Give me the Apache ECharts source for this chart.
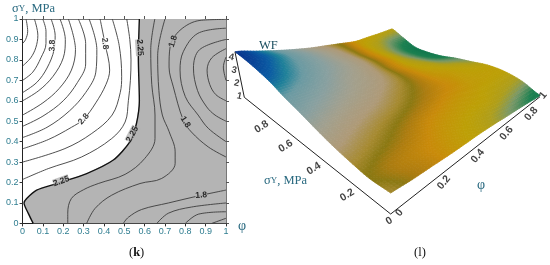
<!DOCTYPE html>
<html><head><meta charset="utf-8">
<style>html,body{margin:0;padding:0;background:#fff}#c{width:550px;height:265px}</style>
<script src="https://cdn.jsdelivr.net/npm/echarts@6/dist/echarts.min.js"></script>
</head><body><div id="c"></div>
<script>
// ---- panel (k): contour lines, [phi, sigmaY]
const c225=[[.052,0],[.028,.049],[.007,.10],[.02,.122],[.069,.163],[.167,.195],[.315,.244],[.446,.31],[.528,.40],[.56,.49],[.574,.60],[.569,.81],[.574,1]];
const w1=[[0,.215],[.126,.268],[.29,.325],[.438,.415],[.504,.496],[.52,.6],[.53,.7],[.533,.8],[.527,.9],[.512,1]];
const w2=[[0,.30],[.208,.366],[.34,.44],[.44,.53],[.48,.64],[.487,.72],[.475,.87],[.441,1]];
const w3=[[0,.365],[.126,.41],[.24,.47],[.3,.51],[.36,.59],[.41,.68],[.428,.75],[.405,.88],[.381,1]];
const w4=[[0,.42],[.12,.47],[.23,.55],[.31,.64],[.36,.74],[.365,.85],[.327,1]];
const w5=[[0,.475],[.1,.525],[.2,.6],[.27,.69],[.31,.78],[.31,.88],[.274,1]];
const w6=[[0,.53],[.1,.59],[.18,.66],[.24,.75],[.26,.85],[.225,1]];
const w7=[[0,.6],[.08,.65],[.15,.72],[.2,.81],[.21,.9],[.184,1]];
const w8=[[0,.64],[.07,.69],[.12,.76],[.155,.85],[.16,.92],[.14,1]];
const w9=[[0,.7],[.05,.74],[.09,.81],[.115,.88],[.115,.94],[.099,1]];
const w10=[[0,.77],[.04,.81],[.065,.86],[.075,.92],[.058,1]];
const w11=[[0,.88],[.015,.9],[.025,.94],[.017,1]];
const g1=[[.222,0],[.222,.05],[.24,.122],[.30,.165],[.372,.195],[.504,.24],[.6,.317],[.651,.415],[.651,.53],[.635,.68],[.63,.85],[.65,1]];
const g2=[[.315,0],[.356,.073],[.438,.138],[.577,.195],[.684,.22],[.75,.293],[.75,.35],[.72,.45],[.687,.53],[.67,.65],[.664,.82],[.70,1]];
const g3=[[1,.998],[.872,.993],[.774,.945],[.725,.863],[.72,.765],[.741,.668],[.79,.505],[.83,.447],[.913,.374],[1,.325]];
const g4=[[1,.955],[.862,.93],[.79,.84],[.774,.75],[.80,.62],[.863,.53],[.913,.465],[1,.40]];
const g5=[[1,.9],[.87,.85],[.84,.76],[.86,.65],[.905,.57],[.946,.53],[1,.50]];
const g6=[[1,.855],[.93,.81],[.907,.75],[.92,.68],[.95,.63],[1,.60]];
const g7=[[1,.814],[.987,.765],[1,.70]];
const l1=[[.495,0],[.52,.03],[.585,.068],[.717,.10],[.88,.138],[1,.163]];
const l2=[[.66,0],[.717,.05],[.83,.08],[1,.10]];
const l3=[[.80,0],[.864,.045],[1,.057]];
const l4=[[.93,0],[1,.025]];
const thinContours=[w1,w2,w3,w4,w5,w6,w7,w8,w9,w10,w11,g1,g2,g3,g4,g5,g6,g7,l1,l2,l3,l4];
// contour labels: phi, sigmaY, text
const labelPos=[[.146,.87,'3.8'],[.405,.88,'2.8'],[.30,.51,'2.8'],[.577,.86,'2.25'],[.54,.436,'2.25'],[.19,.206,'2.25'],[.74,.89,'1.8'],[.80,.496,'1.8'],[.878,.138,'1.8']];
const labelAngle=[88,-84,48,-86,62,20,72,-58,4];
const labelBack=['#fff','#fff','#fff','#b4b4b4','#b4b4b4','#b4b4b4','#b4b4b4','#b4b4b4','#b4b4b4'];
// ---- panel (l): WF surface, rows by sigmaY, columns phi = 0, 0.1 ... 1
const wf_s10=[4.50,4.00,3.52,3.10,2.74,2.46,2.18,1.92,1.86,1.80,1.78];
const wf_s09=[4.42,4.07,3.64,3.22,2.85,2.52,2.16,1.87,1.68,1.46,1.38];
const wf_s08=[4.25,3.93,3.58,3.23,2.88,2.55,2.14,1.85,1.55,1.25,1.00];
const wf_s07=[4.00,3.75,3.43,3.13,2.86,2.56,2.16,1.87,1.55,1.24,1.00];
const wf_s06=[3.60,3.43,3.20,2.94,2.75,2.50,2.12,1.87,1.65,1.34,1.13];
const wf_s05=[3.29,3.12,2.93,2.77,2.63,2.43,2.14,1.91,1.78,1.55,1.40];
const wf_s04=[2.93,2.78,2.66,2.57,2.44,2.30,2.12,1.95,1.87,1.77,1.60];
const wf_s03=[2.62,2.52,2.43,2.35,2.26,2.15,2.05,1.97,1.88,1.85,1.82];
const wf_s02=[2.40,2.33,2.24,2.13,2.03,1.97,1.92,1.89,1.86,1.84,1.83];
const wf_s01=[2.25,2.14,2.07,2.00,1.92,1.87,1.83,1.80,1.72,1.65,1.60];
const wf_s00=[2.35,2.18,2.07,1.95,1.87,1.80,1.68,1.53,1.40,1.25,1.10];
const wfRows=[wf_s00,wf_s01,wf_s02,wf_s03,wf_s04,wf_s05,wf_s06,wf_s07,wf_s08,wf_s09,wf_s10];
const stopVals=[1.0,1.25,1.5,1.7,1.85,2.0,2.14,2.25,2.36,2.55,2.85,3.2,3.6,3.85,4.1,4.5];
const stopCols=['#12784e','#1c8050','#7a9868','#ae9e1c','#bd9f06','#c98a0a','#ac7c10','#8a7812','#a68a30','#ae9a78','#a2a08e','#88a0a0','#6a9aa2','#1f8199','#0a5aa2','#08348e'];
const sigmaTicks=[0,.2,.4,.6,.8];
const phiTicks=[0,.2,.4,.6,.8,1];
const zTicks=[1,2,3,4];
const floorCorners={o:[390.7,214],p:[540,96.7],b:[392,38],s:[244.3,97.3]};

function solveHomography(o,p,b,s){
  const dx1=p[0]-b[0],dx2=s[0]-b[0],sx=o[0]-p[0]+b[0]-s[0];
  const dy1=p[1]-b[1],dy2=s[1]-b[1],sy=o[1]-p[1]+b[1]-s[1];
  const d=dx1*dy2-dx2*dy1;
  const g=(sx*dy2-dx2*sy)/d,h=(dx1*sy-sx*dy1)/d;
  return {a:p[0]-o[0]+g*p[0],b:s[0]-o[0]+h*s[0],c:o[0],d:p[1]-o[1]+g*p[1],e:s[1]-o[1]+h*s[1],f:o[1],g,h};
}
const H=solveHomography(floorCorners.o,floorCorners.p,floorCorners.b,floorCorners.s);
function floor(phi,sig){const w=H.g*phi+H.h*sig+1;return [(H.a*phi+H.b*sig+H.c)/w,(H.d*phi+H.e*sig+H.f)/w];}
function project(phi,sig,z){
  const f=floor(phi,sig);
  const k=13+(f[1]-97)*2.5/117;
  const sh=(f[0]-390.7)/146*2.66;
  return [f[0]+(z-1)*sh,f[1]-(z-1)*k];
}
function hex(c){return [parseInt(c.slice(1,3),16),parseInt(c.slice(3,5),16),parseInt(c.slice(5,7),16)];}
const stopRgb=stopCols.map(hex);
function colorOf(v){
  if(v<=stopVals[0])return stopCols[0];
  for(let i=1;i<stopVals.length;i++){
    if(v<=stopVals[i]){
      const t=(v-stopVals[i-1])/(stopVals[i]-stopVals[i-1]);
      const a=stopRgb[i-1],b=stopRgb[i];
      return `rgb(${a.map((x,n)=>Math.round(x+(b[n]-x)*t)).join(',')})`;
    }
  }
  return stopCols[stopCols.length-1];
}
// smooth drawing of the read table (Catmull-Rom between table entries)
const clampIdx=i=>Math.max(0,Math.min(10,i));
function cr(a,b,c,d,t){return .5*(2*b+(c-a)*t+(2*a-5*b+4*c-d)*t*t+(3*b-a-3*c+d)*t*t*t);}
function surf(i,j,u,v){
  const row=n=>{const r=wfRows[clampIdx(j+n)];return cr(r[clampIdx(i-1)],r[i],r[clampIdx(i+1)],r[clampIdx(i+2)],u);};
  return cr(row(-1),row(0),row(1),row(2),v);
}
// cells, far corner first
const cells=[];
for(let sum=18;sum>=0;sum--)for(let j=0;j<10;j++){const i=sum-j;if(i>=0&&i<10)cells.push([i,j,wfRows[j][i]]);}
const SUB=7;
function renderCell(params,api){
  const i=api.value(0),j=api.value(1);
  const pt=(u,v)=>api.coord(project((i+u)/10,(j+v)/10,surf(i,j,u,v)));
  const kids=[];
  for(let a=SUB-1;a>=0;a--)for(let b=SUB-1;b>=0;b--){
    const u0=b/SUB,u1=(b+1)/SUB,v0=a/SUB,v1=(a+1)/SUB;
    const col=colorOf(surf(i,j,(u0+u1)/2,(v0+v1)/2));
    kids.push({type:'polygon',silent:true,shape:{points:[pt(u0,v0),pt(u1,v0),pt(u1,v1),pt(u0,v1)]},style:{fill:col,stroke:col,lineWidth:.8}});
  }
  return {type:'group',children:kids};
}
const grayPts=c225.concat([[1,1],[1,0]]);
const tickColor='#2f7d90';
const axisBase={type:'value',min:0,max:1,interval:.1,splitLine:{show:false},
  axisLine:{show:true,onZero:false,lineStyle:{color:'#222',width:1}},axisTick:{show:true,length:3,lineStyle:{color:'#333'}},
  axisLabel:{color:tickColor,fontFamily:'Liberation Sans',fontSize:9,margin:4}};
const topRight={axisLine:{show:true,onZero:false,lineStyle:{color:'#777',width:1}},axisTick:{show:true,length:3,lineStyle:{color:'#555'}},axisLabel:{show:false}};
const series=[];
series.push({type:'custom',xAxisIndex:0,yAxisIndex:0,data:[0],z:1,silent:true,clip:true,
  renderItem:(p,api)=>({type:'polygon',shape:{points:grayPts.map(d=>api.coord(d))},style:{fill:'#b4b4b4'}})});
thinContours.forEach(d=>series.push({type:'line',xAxisIndex:0,yAxisIndex:0,data:d,smooth:.35,showSymbol:false,silent:true,z:2,lineStyle:{color:'#3c3c3c',width:.9}}));
series.push({type:'line',xAxisIndex:0,yAxisIndex:0,data:c225,smooth:.25,showSymbol:false,silent:true,z:3,lineStyle:{color:'#111',width:1.4}});
series.push({type:'scatter',xAxisIndex:0,yAxisIndex:0,symbolSize:0,silent:true,z:4,
  data:labelPos.map((l,n)=>({value:[l[0],l[1]],label:{show:true,position:'inside',formatter:l[2],rotate:labelAngle[n],color:'#000',fontWeight:'bold',fontFamily:'Liberation Sans',fontSize:8.5,backgroundColor:labelBack[n],padding:0}}))});
// surface
series.push({type:'custom',xAxisIndex:2,yAxisIndex:2,data:cells,renderItem:renderCell,clip:false,silent:true,z:2,encode:{x:0,y:1}});
// 3D axes
const axisLine=pts=>({type:'line',xAxisIndex:2,yAxisIndex:2,data:pts,showSymbol:false,silent:true,z:3,lineStyle:{color:'#222',width:1}});
series.push(axisLine([floor(0,1),floor(0,0),floor(1,0)]));
series.push(axisLine([project(0,1,1),project(0,1,4.5)]));
const tickLabel=(p,t,rot,off,size)=>({value:p,label:{show:true,position:'inside',formatter:String(t),rotate:rot,offset:off,color:'#111',fontWeight:'bold',fontFamily:'Liberation Sans',fontSize:size}});
series.push({type:'scatter',xAxisIndex:2,yAxisIndex:2,symbolSize:0,silent:true,z:4,data:[
  ...sigmaTicks.map(t=>tickLabel(floor(0,t),t,32,t===0?[-5,5]:[-10,9],10.5)),
  ...phiTicks.map(t=>tickLabel(floor(t,0),t,50,t===0?[6.5,6]:(t===1?[3,1.5]:[8,10]),10.5)),
  ...zTicks.map(t=>tickLabel(project(0,1,t),t,-12,[-5,0],9.5))
]});
const serif='Liberation Serif';
const ink='#2a6a80';
const opt={animation:false,backgroundColor:'#fff',
  grid:[{left:22.6,top:19,width:203.4,height:204.4},{left:0,top:0,width:550,height:265}],
  xAxis:[
    Object.assign({},axisBase,{gridIndex:0,position:'bottom'}),
    Object.assign({},axisBase,topRight,{gridIndex:0,position:'top'}),
    {type:'value',gridIndex:1,min:0,max:550,show:false}],
  yAxis:[
    Object.assign({},axisBase,{gridIndex:0,position:'left'}),
    Object.assign({},axisBase,topRight,{gridIndex:0,position:'right'}),
    {type:'value',gridIndex:1,min:0,max:265,inverse:true,show:false}],
  series,
  graphic:[
    {type:'text',left:12,top:2,style:{text:'σ{y|Y}, MPa',fill:ink,font:`12.5px "${serif}"`,rich:{y:{fontSize:9,fill:ink,fontFamily:serif}}}},
    {type:'text',left:238,top:219,style:{text:'φ',fill:ink,font:`14px "${serif}"`}},
    {type:'text',left:129,top:246,style:{text:'({b|k})',fill:'#111',font:`12.5px "${serif}"`,rich:{b:{fontWeight:'bold',fontSize:12.5,fontFamily:serif,fill:'#111'}}}},
    {type:'text',left:259,top:39,style:{text:'WF',fill:'#1c4f60',font:`12.5px "${serif}"`}},
    {type:'text',left:264,top:174,style:{text:'σ{y|Y}, MPa',fill:ink,font:`12.5px "${serif}"`,rich:{y:{fontSize:9,fill:ink,fontFamily:serif}}}},
    {type:'text',left:477,top:178,style:{text:'φ',fill:ink,font:`14px "${serif}"`}},
    {type:'text',left:414,top:246,style:{text:'(l)',fill:'#111',font:`12.5px "${serif}"`}}
  ]};
const chart=echarts.init(document.getElementById('c'),null,{renderer:'canvas'});
chart.setOption(opt);
</script></body></html>
